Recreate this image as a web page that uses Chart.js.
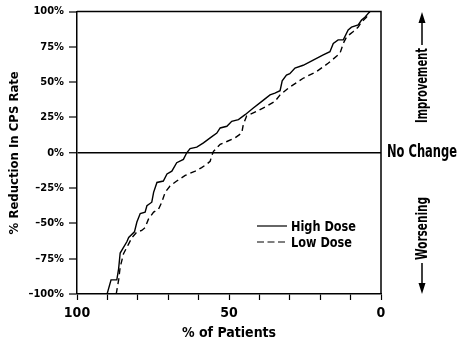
<!DOCTYPE html>
<html>
<head>
<meta charset="utf-8">
<script src="https://cdn.jsdelivr.net/npm/chart.js@4"></script>
<style>
  html, body { margin: 0; padding: 0; background: #fff; }
  #wrap { width: 468px; height: 346px; }
</style>
</head>
<body>
<div id="wrap"><canvas id="cps" width="468" height="346"></canvas></div>
<script>
"use strict";
{
  // % of patients (x) and % reduction in CPS rate (y)
  const highDoseX = [90.1, 88.8, 86.9, 86.3, 85.8, 84.7, 83.6, 83, 81.1, 80.3, 79.2, 77.6, 77, 75.4, 74.8, 73.7, 71.6, 70.4, 68.8, 67.2, 65, 63.9, 62.8, 60.6, 58.4, 56.2, 54, 52.9, 50.7, 49.1, 46.9, 44.7, 42, 39.2, 36.5, 34.9, 33.2, 32.5, 31.1, 30, 28.3, 25.6, 22.3, 19, 16.8, 15.7, 14.1, 12.4, 10.8, 9.7, 7.5, 6.4, 5.3, 3.7];
  const highDoseY = [-100, -90, -90, -82, -71, -67, -63, -60, -56, -49, -43, -42, -37.5, -35, -28, -21, -20, -15, -13, -7, -4.7, 0, 3, 4, 7, 10.6, 14, 17.6, 18.8, 22.3, 23.5, 27, 31.7, 36.4, 41, 42.3, 44, 51, 55, 56, 60, 62, 65.7, 69.3, 71.6, 77.5, 80, 80, 87, 89, 90.5, 94, 96, 100];
  const lowDoseX = [87.1, 86.3, 85.8, 84.7, 83, 81.9, 80.3, 78.7, 77.6, 76.5, 74.8, 73.2, 72.1, 71, 69.4, 67.2, 64.4, 61.1, 59, 57.3, 56.2, 55.7, 55.1, 52.9, 50.7, 48, 45.8, 45.3, 44.2, 40.9, 37.6, 34.9, 33.2, 30.5, 25.6, 21.2, 17.4, 13.5, 12.4, 11.3, 9.2, 7.5, 6.4, 4.8, 3.7];
  const lowDoseY = [-100, -90, -81, -71.5, -64.5, -60, -56, -55, -53, -47, -42, -40, -35, -28, -23.5, -20, -16, -13, -10.5, -8, -6, -2.3, 1, 6, 8, 10.6, 14, 20, 26, 29.4, 33, 36.4, 41, 45.8, 52.8, 57.5, 63.4, 70.4, 77.5, 82.2, 85.7, 89, 92.7, 96, 100];
  const xTickLabels = [100, 50, 0];

  const FONT = "'Liberation Sans Narrow', 'DejaVu Sans Condensed', 'Arial Narrow', sans-serif";

  function toPoints(xs, ys) {
    return xs.map((x, i) => ({ x: x, y: ys[i] }));
  }

  // box border, legend and the side notes
  const extras = {
    id: "extras",
    afterDraw(chart) {
      const ctx = chart.ctx;
      const a = chart.chartArea;
      ctx.save();
      ctx.strokeStyle = "#000";
      ctx.lineWidth = 1.5;
      ctx.beginPath();
      ctx.moveTo(a.left, a.top);
      ctx.lineTo(a.right, a.top);
      ctx.lineTo(a.right, a.bottom);
      ctx.stroke();

      // legend (maxWidth squeezes the text to a narrow look)
      ctx.font = "bold 14px " + FONT;
      ctx.fillStyle = "#000";
      ctx.textBaseline = "middle";
      ctx.textAlign = "left";
      const legendW = [65, 61];
      chart.data.datasets.forEach((ds, i) => {
        const y = 226 + i * 16;
        ctx.lineWidth = 1.2;
        ctx.setLineDash(ds.borderDash ? [7, 3.5] : []);
        ctx.beginPath();
        ctx.moveTo(257, y);
        ctx.lineTo(287, y);
        ctx.stroke();
        ctx.setLineDash([]);
        ctx.fillText(ds.label, 291, y + 1, legendW[i]);
      });

      ctx.font = "bold 17px " + FONT;
      ctx.fillText("No Change", 387, 153, 70);

      // Improvement / Worsening with arrows
      const cx = 422;
      ctx.save();
      ctx.translate(cx, 0);
      ctx.rotate(-Math.PI / 2);
      ctx.font = "bold 15px " + FONT;
      ctx.textAlign = "left";
      ctx.fillText("Improvement", -123, 1, 75);
      ctx.fillText("Worsening", -260, 1, 63);
      ctx.restore();

      ctx.lineWidth = 1.5;
      ctx.beginPath();
      ctx.moveTo(cx, 20); ctx.lineTo(cx, 45);
      ctx.moveTo(cx, 263); ctx.lineTo(cx, 286);
      ctx.stroke();
      ctx.beginPath();
      ctx.moveTo(cx, 12); ctx.lineTo(cx - 3.5, 23); ctx.lineTo(cx + 3.5, 23); ctx.closePath();
      ctx.moveTo(cx, 294); ctx.lineTo(cx - 3.5, 283); ctx.lineTo(cx + 3.5, 283); ctx.closePath();
      ctx.fill();
      ctx.restore();
    }
  };

  const cpsChart = new Chart(document.getElementById("cps"), {
    type: "scatter",
    data: {
      datasets: [
        {
          label: "High Dose",
          data: toPoints(highDoseX, highDoseY),
          showLine: true,
          borderColor: "#000",
          borderWidth: 1.4,
          pointRadius: 0,
          tension: 0
        },
        {
          label: "Low Dose",
          data: toPoints(lowDoseX, lowDoseY),
          showLine: true,
          borderColor: "#000",
          borderWidth: 1.4,
          borderDash: [6, 4],
          pointRadius: 0,
          tension: 0
        }
      ]
    },
    options: {
      responsive: false,
      animation: false,
      layout: { padding: { top: 10, right: 87, left: 0, bottom: 0 } },
      plugins: { legend: { display: false }, tooltip: { enabled: false } },
      scales: {
        x: {
          type: "linear",
          min: 0,
          max: 100,
          reverse: true,
          border: { color: "#000", width: 1.5 },
          grid: { drawOnChartArea: false, tickLength: 6, tickColor: "#000", tickWidth: 1.2 },
          ticks: {
            stepSize: 10,
            autoSkip: false,
            maxRotation: 0,
            padding: 5,
            color: "#000",
            font: { family: FONT, size: 14, weight: "bold" },
            callback: (v) => (xTickLabels.includes(v) ? String(v) : "")
          },
          title: {
            display: true,
            text: "% of Patients",
            color: "#000",
            font: { family: FONT, size: 14, weight: "bold" },
            padding: { top: 0, bottom: 4 }
          },
          afterFit: (s) => { s.height = 52; }
        },
        y: {
          min: -100,
          max: 100,
          border: { color: "#000", width: 1.5 },
          grid: {
            tickLength: 8,
            tickColor: "#000",
            tickWidth: 1.2,
            color: (c) => (c.tick && c.tick.value === 0 ? "#000" : "rgba(0,0,0,0)"),
            lineWidth: (c) => (c.tick && c.tick.value === 0 ? 1.5 : 0)
          },
          ticks: {
            stepSize: 25,
            padding: 5,
            color: "#000",
            font: { family: FONT, size: 11, weight: "bold" },
            callback: (v) => (v < 0 ? "\u2013" + Math.abs(v) : v) + "%"
          },
          title: {
            display: true,
            text: "% Reduction In CPS Rate",
            color: "#000",
            font: { family: FONT, size: 13, weight: "bold" },
            padding: { top: 7, bottom: 0 }
          },
          afterFit: (s) => { s.width = 77; }
        }
      }
    },
    plugins: [extras]
  });
}
</script>
</body>
</html>
